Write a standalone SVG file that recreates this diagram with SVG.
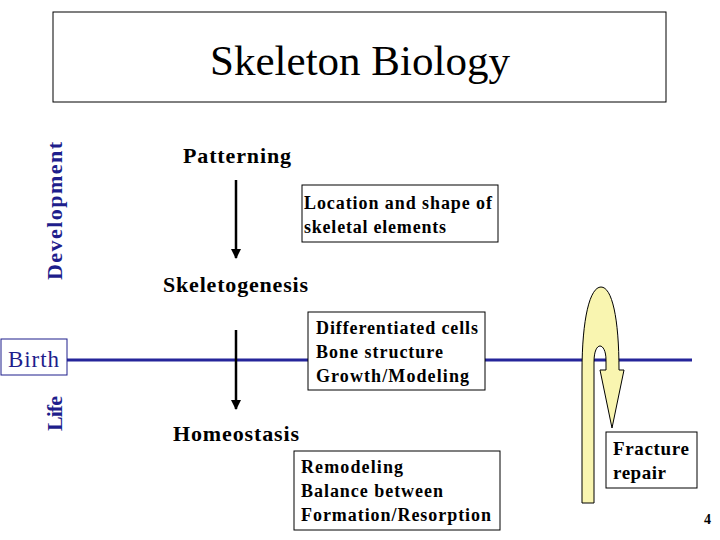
<svg xmlns="http://www.w3.org/2000/svg" width="720" height="540" viewBox="0 0 720 540">
<defs>
<style>
.box{fill:#fff;stroke:#000;stroke-width:1}
.f{font-family:'Liberation Serif','DejaVu Serif',serif}
.t{font-family:'Liberation Serif','DejaVu Serif',serif;font-weight:bold;fill:#000}
.lbl{font-size:22px}
.bx{font-size:18px}
.blue{fill:#1e1e8c}
.shaft{stroke:#000;stroke-width:2.5;fill:none}
</style>
<marker id="ah" viewBox="0 0 10 10" refX="9" refY="5" markerWidth="4" markerHeight="4" orient="auto" markerUnits="strokeWidth">
<path d="M0,0 L10,5 L0,10 Z" fill="#000"/>
</marker>
</defs>
<rect width="720" height="540" fill="#fff"/>

<g id="title">
<rect class="box" x="53" y="12" width="613" height="90"/>
<text class="f" x="360" y="75" text-anchor="middle" font-size="43" fill="#000">Skeleton Biology</text>
</g>

<g id="axis-labels">
<text class="t blue" font-size="22" transform="translate(62,280) rotate(-90)" textLength="138" lengthAdjust="spacing">Development</text>
<text class="t blue" font-size="22" transform="translate(62,431) rotate(-90)" textLength="35" lengthAdjust="spacing">Life</text>
</g>

<g id="birth-line">
<line x1="67" y1="360" x2="692" y2="360" stroke="#25259a" stroke-width="3"/>
</g>

<g id="birth">
<rect x="1" y="339" width="66" height="36" fill="#fff" stroke="#1e1e8c" stroke-width="1"/>
<text class="f" x="8" y="367" font-size="23" fill="#1e1e8c" textLength="51" lengthAdjust="spacing">Birth</text>
</g>

<g id="connectors">
<line class="shaft" x1="236" y1="180" x2="236" y2="258" marker-end="url(#ah)"/>
<line class="shaft" x1="236" y1="330" x2="236" y2="409" marker-end="url(#ah)"/>
</g>

<g id="patterning">
<text class="t lbl" x="183" y="163" textLength="108" lengthAdjust="spacing">Patterning</text>
</g>
<g id="skeletogenesis">
<text class="t lbl" x="163" y="292" textLength="145" lengthAdjust="spacing">Skeletogenesis</text>
</g>
<g id="homeostasis">
<text class="t lbl" x="173" y="441" textLength="126" lengthAdjust="spacing">Homeostasis</text>
</g>

<g id="location-box">
<rect class="box" x="302" y="185" width="196" height="57"/>
<text class="t bx" x="304" y="209" textLength="188" lengthAdjust="spacing">Location and shape of</text>
<text class="t bx" x="304" y="233" textLength="142" lengthAdjust="spacing">skeletal elements</text>
</g>

<g id="differentiated-box">
<rect class="box" x="308" y="312" width="177" height="78"/>
<text class="t bx" x="316" y="334" textLength="162" lengthAdjust="spacing">Differentiated cells</text>
<text class="t bx" x="316" y="358" textLength="127" lengthAdjust="spacing">Bone structure</text>
<text class="t bx" x="316" y="382" textLength="153" lengthAdjust="spacing">Growth/Modeling</text>
</g>

<g id="remodeling-box">
<rect class="box" x="294" y="451" width="206" height="79"/>
<text class="t bx" x="301" y="473" textLength="102" lengthAdjust="spacing">Remodeling</text>
<text class="t bx" x="301" y="497" textLength="142" lengthAdjust="spacing">Balance between</text>
<text class="t bx" x="301" y="521" textLength="190" lengthAdjust="spacing">Formation/Resorption</text>
</g>

<g id="fracture-arrow">
<path d="M582,503 L582,372 C582,318 590,287 601,287 C612,287 619,318 619,370 L624,370 L612,428 L600,370 L606,370 L606,360 C606,351 603,346 600,346 C597,346 594,351 594,362 L594,503 Z" fill="#f9f5b0" stroke="#000" stroke-width="1"/>
</g>

<g id="fracture-box">
<rect class="box" x="606" y="432" width="91" height="56"/>
<text class="t" font-size="19" x="613" y="455" textLength="76" lengthAdjust="spacing">Fracture</text>
<text class="t" font-size="19" x="613" y="479" textLength="53" lengthAdjust="spacing">repair</text>
</g>

<g id="page-number">
<text class="t" font-size="14" x="704" y="524">4</text>
</g>
</svg>
